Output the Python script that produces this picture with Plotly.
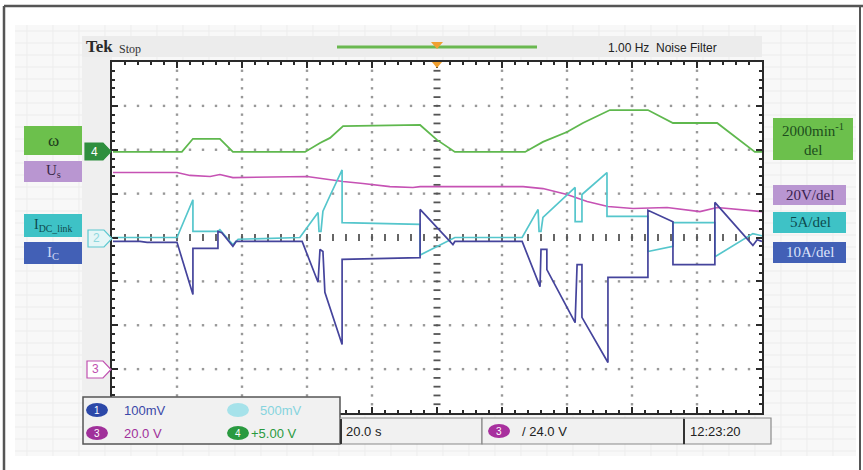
import numpy as np
import plotly.graph_objects as go

# ---------------- data ----------------
# time base 20 s/div, 10 divisions
t_omega = [0.3, 21.5, 24.9, 33.2, 37.2, 59.4, 64.0, 67.1, 71.1, 91.7, 94.8, 100.0,
           105.5, 127.1, 132.6, 140.0, 144.9, 153.2, 164.9, 172.6, 186.2, 197.8, 200.0]
omega = [0, 0, 600, 600, 0, 0, 410, 640, 1180, 1230, 1230, 550,
         0, 0, 460, 910, 1320, 1910, 1910, 1320, 1320, 0, 0]          # min^-1

t_us = [0.3, 20.0, 24.0, 30.2, 33.2, 37.2, 60.0, 66.2, 71.1, 77.2, 85.5, 92.6,
        94.8, 126.5, 132.6, 140.0, 146.2, 152.6, 160.3, 170.8, 180.9, 186.2, 200.0]
us = [89.6, 89.6, 88.3, 87.8, 88.7, 87.3, 87.8, 86.4, 85.5, 84.6, 83.2, 82.8,
      83.2, 83.2, 82.3, 79.6, 76.4, 74.1, 73.2, 73.7, 71.8, 73.7, 71.8]   # V

t_idc = [0.3, 20.0, 24.9, 24.9, 32.6, 33.2, 35.7, 37.2, 38.8, 57.8, 63.4, 63.7,
         64.3, 64.9, 66.5, 70.8, 70.8, 94.8, 94.8, 104.0, 105.5, 126.2, 131.1, 131.4,
         132.0, 132.6, 142.5, 142.5, 144.6, 144.6, 152.3, 152.3, 164.9, 164.9, 172.6,
         172.6, 185.5, 185.5, 197.2, 200.0]
idc = [0, 0, 4.3, 0.7, 0.7, 0.9, -0.2, -0.8, -0.2, 0, 2.85, 0.7,
       0.7, 3.0, 4.3, 7.7, 1.7, 1.5, -2.0, -0.25, 0, 0, 3.2, 0.7,
       0.7, 2.3, 5.7, 1.8, 1.8, 4.9, 7.4, 2.4, 2.4, -1.6, -1.0,
       1.7, 1.7, -2.2, 0.45, 0.2]                                       # A

t_ic = [0.3, 8.6, 10.8, 20.0, 24.9, 24.9, 32.6, 32.6, 33.8, 35.7, 37.2, 38.2,
        58.5, 63.4, 64.0, 64.9, 65.5, 70.8, 70.8, 94.8, 94.8, 104.9, 105.5, 126.2,
        131.7, 132.0, 133.8, 133.8, 142.5, 143.1, 144.6, 144.6, 152.6, 152.6, 164.9,
        164.9, 172.6, 172.6, 185.5, 185.5, 197.2, 198.5, 200.0]
ic = [-0.9, -0.9, -1.1, -1.1, -13.0, -2.5, -2.5, 1.4, 1.1, -0.5, -2.0, -0.9,
      -0.9, -10.2, -2.7, -3.2, -12.5, -24.4, -5.0, -4.6, 6.4, -1.6, -0.9, -0.9,
      -11.2, -2.7, -2.7, -7.3, -19.4, -6.2, -6.2, -18.2, -28.5, -9.1, -9.1,
      6.2, 3.6, -6.2, -6.2, 8.0, -1.8, -0.5, -0.9]                     # A

# channel scales (units/div) and ground-marker positions (div from centre)
CH4_SCALE, CH4_POS = 2000.0, 1.95   # omega
CH3_SCALE, CH3_POS = 20.0, -3.0     # Us
CH2_SCALE, CH2_POS = 5.0, 0.0       # I_DC link
CH1_SCALE, CH1_POS = 10.0, 0.0      # Ic

left_labels = ["ω", "U<sub>s</sub>", "I<sub>DC_link</sub>", "I<sub>C</sub>"]
right_labels = ["2000min<sup>-1</sup>", "del", "20V/del", "5A/del", "10A/del"]
header_left = ["Tek", "Stop"]
header_right = "1.00 Hz  Noise Filter"
readouts = ["100mV", "500mV", "20.0 V", "+5.00 V", "20.0 s", "/ 24.0 V", "12:23:20"]

# ---------------- layout geometry ----------------
W, H = 863, 470
GX0, GX1, GY0, GY1 = 112, 762, 62, 413
SANS = "Liberation Sans, Arial, sans-serif"
SERIF = "Liberation Serif, DejaVu Serif, serif"

GREEN, MAGENTA, CYAN, BLUE = "#5fb84e", "#c652b4", "#55c6cc", "#45449c"

def to_div(vals, scale, pos):
    return [pos + v / scale for v in vals]

fig = go.Figure()

# graticule dots
dx, dy = [], []
for i in range(1, 10):
    if i == 5:
        continue
    for y in np.arange(-3.8, 3.81, 0.2):
        dx.append(20 * i); dy.append(y)
for j in range(-3, 4):
    if j == 0:
        continue
    for x in np.arange(4, 197, 4):
        dx.append(x); dy.append(j)
fig.add_trace(go.Scatter(x=dx, y=dy, mode="markers", hoverinfo="skip", showlegend=False,
                         marker=dict(symbol="square", size=2.4, color="#999999")))
# centre cross ticks
cy = list(np.arange(-3.8, 3.81, 0.2))
fig.add_trace(go.Scatter(x=[100] * len(cy), y=cy, mode="markers", hoverinfo="skip", showlegend=False,
                         marker=dict(symbol="line-ew", size=5, line=dict(width=1.8, color="#555"))))
cx = list(np.arange(4, 197, 4))
fig.add_trace(go.Scatter(x=cx, y=[0] * len(cx), mode="markers", hoverinfo="skip", showlegend=False,
                         marker=dict(symbol="line-ns", size=5, line=dict(width=1.8, color="#555"))))

# waveforms
fig.add_trace(go.Scatter(x=t_omega, y=to_div(omega, CH4_SCALE, CH4_POS), mode="lines",
                         line=dict(color=GREEN, width=1.8), showlegend=False))
fig.add_trace(go.Scatter(x=t_us, y=to_div(us, CH3_SCALE, CH3_POS), mode="lines",
                         line=dict(color=MAGENTA, width=1.6), showlegend=False))
fig.add_trace(go.Scatter(x=t_idc, y=to_div(idc, CH2_SCALE, CH2_POS), mode="lines",
                         line=dict(color=CYAN, width=1.7), showlegend=False))
fig.add_trace(go.Scatter(x=t_ic, y=to_div(ic, CH1_SCALE, CH1_POS), mode="lines",
                         line=dict(color=BLUE, width=1.7), showlegend=False))

shapes, annots = [], []

def rect(x0, y0, x1, y1, fill, lc=None, lw=0, layer="below"):
    shapes.append(dict(type="rect", xref="paper", yref="paper", x0=x0 / W, x1=x1 / W,
                       y0=1 - y1 / H, y1=1 - y0 / H, fillcolor=fill,
                       line=dict(color=lc or fill, width=lw), layer=layer))

def line(x0, y0, x1, y1, color, width, layer="below"):
    shapes.append(dict(type="line", xref="paper", yref="paper", x0=x0 / W, x1=x1 / W,
                       y0=1 - y0 / H, y1=1 - y1 / H, line=dict(color=color, width=width), layer=layer))

def oval(x0, y0, x1, y1, fill, layer="above"):
    shapes.append(dict(type="circle", xref="paper", yref="paper", x0=x0 / W, x1=x1 / W,
                       y0=1 - y1 / H, y1=1 - y0 / H, fillcolor=fill, line=dict(color=fill, width=0),
                       layer=layer))

def tag(x0, y0, x1, y1, tip, fill, lc, layer="above"):
    ym = (y0 + y1) / 2
    pts = [(x0, y0), (x1, y0), (tip, ym), (x1, y1), (x0, y1)]
    p = "M " + " L ".join(f"{x / W:.5f},{1 - y / H:.5f}" for x, y in pts) + " Z"
    shapes.append(dict(type="path", xref="paper", yref="paper", path=p, fillcolor=fill,
                       line=dict(color=lc, width=1.2), layer=layer))

def text(x, y, s, size, color, family=SANS, xanchor="left"):
    annots.append(dict(x=x / W, y=1 - y / H, xref="paper", yref="paper", text=s, showarrow=False,
                       xanchor=xanchor, yanchor="middle", font=dict(size=size, color=color, family=family)))

# background panel with faint grid
rect(15, 25, 856, 456, "#f8f8f8")
for yy in range(31, 456, 12):
    line(15, yy, 856, yy, "#ececec", 1)
for xx in range(27, 856, 26):
    line(xx, 25, xx, 456, "#ededed", 1)
rect(82, 36, 762, 57, "#ececec")
rect(82, 57, 112, 400, "#efefef")
rect(GX0, GY0, GX1, GY1, "#ffffff")
# header
line(337, 47, 537, 47, "#6ab850", 3)
shapes.append(dict(type="path", xref="paper", yref="paper",
                   path=f"M {431/W},{1-42/H} L {443/W},{1-42/H} L {437/W},{1-49/H} Z",
                   fillcolor="#f0a030", line=dict(color="#f0a030", width=0), layer="above"))
shapes.append(dict(type="path", xref="paper", yref="paper",
                   path=f"M {432/W},{1-62/H} L {442/W},{1-62/H} L {437/W},{1-68/H} Z",
                   fillcolor="#f0a030", line=dict(color="#f0a030", width=0), layer="above"))
text(84, 47, "<b>" + header_left[0] + "</b>", 17, "#2a2a2a", SERIF)
text(117, 49, header_left[1], 12, "#333", SERIF)
text(662, 48, header_right, 12, "#222", xanchor="center")

# outer frame
line(4, 6, 863, 6, "#555", 2.5, "above")
line(4, 6, 4, 470, "#555", 2.5, "above")
line(860, 6, 860, 470, "#555", 2, "above")

# left labels
rect(24, 126, 82, 155, "#6cc04c")
text(53, 140, left_labels[0], 17, "#1d3d1d", SERIF, "center")
rect(24, 161, 82, 182, "#b996d1")
text(53, 171, left_labels[1], 15, "#3a2a4a", SERIF, "center")
rect(24, 214, 82, 237, "#3ec2c6")
text(53, 225, left_labels[2], 14, "#0e4a4e", SERIF, "center")
rect(24, 242, 82, 264, "#4260b6")
text(53, 253, left_labels[3], 15, "#d0d8f4", SERIF, "center")

# right labels
rect(773, 118, 853, 160, "#6cc04c")
text(813, 130, right_labels[0], 15, "#1d4d1d", SERIF, "center")
text(813, 150, right_labels[1], 15, "#1d4d1d", SERIF, "center")
rect(773, 185, 846, 205, "#b996d1")
text(810, 195, right_labels[2], 15, "#3a2250", SERIF, "center")
rect(773, 212, 846, 233, "#3ec2c6")
text(810, 222, right_labels[3], 15, "#0d4a4e", SERIF, "center")
rect(773, 242, 846, 263, "#4260b6")
text(810, 252, right_labels[4], 15, "#dde3fa", SERIF, "center")

# channel ground tags
tag(85, 143, 103, 160, 111, "#2f8f3e", "#2f8f3e")
text(94, 152, "4", 12, "#ffffff", xanchor="center")
tag(88, 230, 104, 247, 112, "#e6f6f7", "#5cc8d0")
text(96, 238, "2", 12, "#8fd8de", xanchor="center")
tag(87, 361, 103, 378, 111, "#ffffff", "#c050b0")
text(95, 369, "3", 12, "#c050b0", xanchor="center")

# bottom readout panels
rect(83, 397, 340, 444, "#f1f1f1", "#555", 1.5, "above")
rect(340, 418, 482, 444, "#f1f1f1", "#8a8a8a", 1.2, "above")
rect(482, 418, 684, 444, "#f1f1f1", "#8a8a8a", 1.2, "above")
rect(684, 418, 771, 444, "#f1f1f1", "#8a8a8a", 1.2, "above")
line(341, 419, 341, 444, "#333", 2, "above")
line(684, 419, 684, 444, "#333", 2, "above")
oval(86, 403, 108, 417, "#2c48a8")
text(97, 410, "1", 10, "#ffffff", xanchor="center")
text(122, 410, readouts[0], 13, "#3a48a8")
oval(227, 403, 249, 417, "#a6e2ea")
text(258, 410, readouts[1], 13, "#86d4de")
oval(86, 426, 108, 440, "#a0309a")
text(97, 433, "3", 10, "#ffffff", xanchor="center")
text(122, 433, readouts[2], 13, "#a0309a")
oval(227, 426, 249, 440, "#2a9a40")
text(238, 433, "4", 10, "#ffffff", xanchor="center")
text(249, 433, readouts[3], 13, "#2a9a40")
text(344, 431, readouts[4], 13, "#222")
oval(488, 424, 510, 438, "#a8309e")
text(499, 431, "3", 10, "#ffffff", xanchor="center")
text(520, 431, readouts[5], 13, "#222")
text(688, 431, readouts[6], 13, "#222")

axis_common = dict(showgrid=False, zeroline=False, showline=True, linecolor="#2a2a2a", linewidth=2,
                   mirror="ticks", ticks="inside", tickcolor="#2a2a2a", ticklen=6, tickwidth=1.5,
                   showticklabels=False, fixedrange=True)
fig.update_layout(
    width=W, height=H, margin=dict(l=0, r=0, t=0, b=0),
    paper_bgcolor="#ffffff", plot_bgcolor="rgba(0,0,0,0)",
    xaxis=dict(domain=[GX0 / W, GX1 / W], range=[0, 200], tick0=0, dtick=20,
               minor=dict(dtick=4, ticks="inside", ticklen=3, tickcolor="#2a2a2a", tickwidth=1.5),
               **axis_common),
    yaxis=dict(domain=[1 - GY1 / H, 1 - GY0 / H], range=[-4, 4], tick0=0, dtick=1,
               minor=dict(dtick=0.2, ticks="inside", ticklen=3, tickcolor="#2a2a2a", tickwidth=1.5),
               **axis_common),
    shapes=shapes, annotations=annots, showlegend=False,
)
fig.write_html("out.html")
